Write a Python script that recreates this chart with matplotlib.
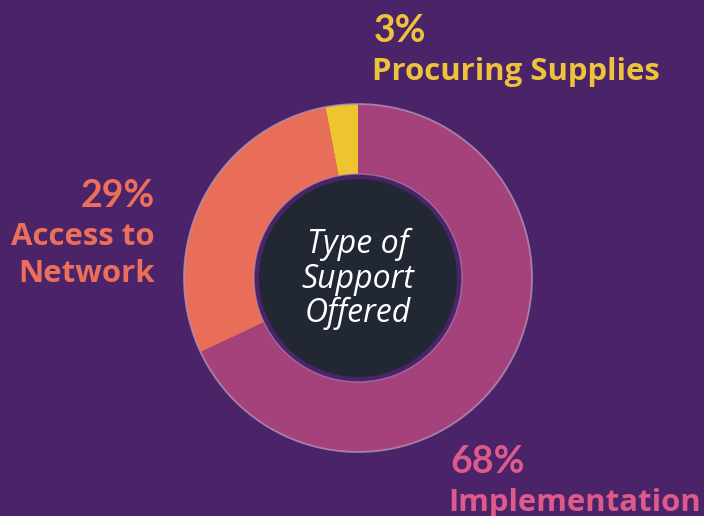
import matplotlib.pyplot as plt
from matplotlib.patches import Circle

# data
categories = ['Implementation', 'Access to\nNetwork', 'Procuring Supplies']
shares = [68, 29, 3]
wedge_colors = ['#a5417b', '#e86e5a', '#f0c431']
text_colors = ['#de5a8b', '#ec6f5c', '#eec23a']
center_title = 'Type of\nSupport\nOffered'

W, H = 704, 516
bg = '#4a2368'

fig = plt.figure(figsize=(W / 100, H / 100), dpi=100, facecolor=bg)
ax = fig.add_axes([0, 0, 1, 1])
ax.set_facecolor(bg)

cx, cy = 358, H - 278
r_out, r_in = 174, 104

ax.pie(shares, colors=wedge_colors, startangle=90, counterclock=False,
       radius=r_out, center=(cx, cy),
       wedgeprops=dict(width=r_out - r_in, linewidth=0))
# thin light rim around the ring
ax.add_patch(Circle((cx, cy), r_out, fill=False, ec='#b392b8', lw=1.3, alpha=0.8))
ax.add_patch(Circle((cx, cy), r_in, fill=False, ec='#b392b8', lw=1.0, alpha=0.6))
# dark centre disc
ax.add_patch(Circle((cx, cy), 99, fc='#212834', ec='none'))

ax.set_xlim(0, W)
ax.set_ylim(0, H)
ax.set_aspect('equal')
ax.axis('off')

pct_font = 'Lato'
lab_font = 'Open Sans'
pct_size = 27
lab_size = 22.4

# Procuring Supplies (top)
ax.text(374, H - 42, f'{shares[2]}%', color=text_colors[2], fontsize=pct_size,
        fontweight='bold', family=pct_font, ha='left', va='baseline')
ax.text(372, H - 80, categories[2], color=text_colors[2], fontsize=lab_size,
        fontweight='bold', family=lab_font, ha='left', va='baseline')

# Access to Network (left)
ax.text(155, H - 207, f'{shares[1]}%', color=text_colors[1], fontsize=pct_size,
        fontweight='bold', family=pct_font, ha='right', va='baseline')
for i, line in enumerate(categories[1].split('\n')):
    ax.text(155, H - 245 - 37 * i, line, color=text_colors[1], fontsize=lab_size,
            fontweight='bold', family=lab_font, ha='right', va='baseline')

# Implementation (bottom right)
ax.text(450, H - 473, f'{shares[0]}%', color=text_colors[0], fontsize=pct_size,
        fontweight='bold', family=pct_font, ha='left', va='baseline')
ax.text(448, H - 511, categories[0], color=text_colors[0], fontsize=lab_size,
        fontweight='bold', family=lab_font, ha='left', va='baseline')

# centre title
for i, line in enumerate(center_title.split('\n')):
    ax.text(cx, H - 253 - 34.5 * i, line, color='white', fontsize=23,
            style='italic', family='Open Sans', ha='center', va='baseline')

fig.savefig('out.png', dpi=100, facecolor=bg)
